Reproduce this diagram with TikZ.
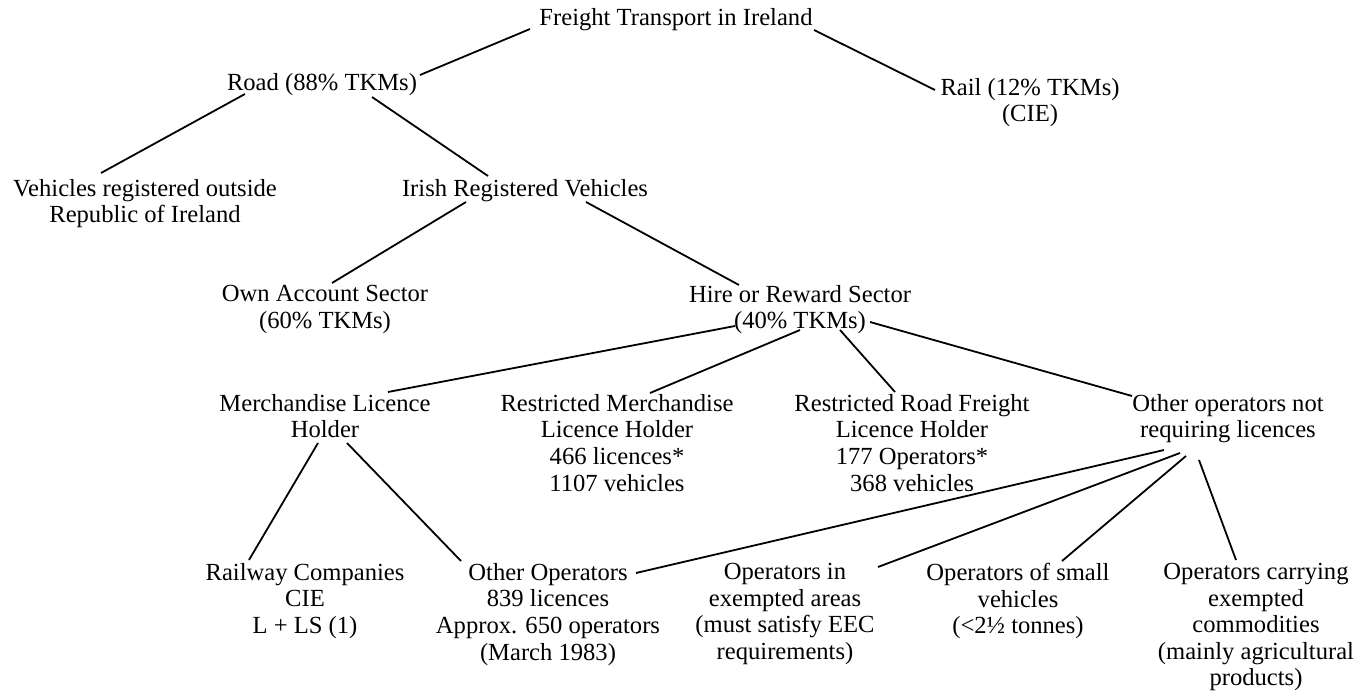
\documentclass[tikz,border=0pt]{standalone}
\usepackage{fontspec}
\setmainfont{Liberation Serif}
\usepackage{tikz}

\begin{document}
\begin{tikzpicture}[
  x=1pt, y=-1pt,
  every node/.style={font=\fontsize{24.6}{26.6}\selectfont},
  item/.style={anchor=north, align=center, inner sep=0pt},
  link/.style={line width=1.8pt, black},
]
\useasboundingbox (0,0) rectangle (1358,695);

% Top levels
\node[item] (freight) at (676,8) {Freight Transport in Ireland};
\node[item] (road) at (322,73) {Road (88\% TKMs)};
\node[item] (rail) at (1030,78) {Rail (12\% TKMs)\\(CIE)};

% Road split
\node[item] (foreign) at (145,179) {Vehicles registered outside\\Republic of Ireland};
\node[item] (irish) at (525,179) {Irish Registered Vehicles};

% Sectors
\node[item] (own) at (325,285) {Own Account Sector\\(60\% TKMs)};
\node[item] (hire) at (800,285) {Hire or Reward Sector\\(40\% TKMs)};

% Licence types
\node[item] (mlh) at (325,394) {Merchandise Licence\\Holder};
\node[item] (rmlh) at (617,394) {Restricted Merchandise\\Licence Holder\\466 licences*\\1107 vehicles};
\node[item] (rrflh) at (912,394) {Restricted Road Freight\\Licence Holder\\177 Operators*\\368 vehicles};
\node[item] (other) at (1228,394) {Other operators not\\requiring licences};

% Bottom row
\node[item] (cie) at (305,563) {Railway Companies\\CIE\\L + LS (1)};
\node[item] (otherops) at (548,563) {Other Operators\\839 licences\\Approx. 650 operators\\(March 1983)};
\node[item] (exarea) at (785,563) {Operators in\\exempted areas\\(must satisfy EEC\\requirements)};
\node[item] (small) at (1018,563) {Operators of small\\vehicles\\(<2½ tonnes)};
\node[item] (agri) at (1256,563) {Operators carrying\\exempted\\commodities\\(mainly agricultural\\products)};

% Links
\draw[link] ([shift={(-146,21)}]freight.north) -- ([shift={(98,2)}]road.north);
\draw[link] ([shift={(138,22)}]freight.north) -- ([shift={(-95,12)}]rail.north);
\draw[link] ([shift={(-77,21)}]road.north) -- ([shift={(-44,-6)}]foreign.north);
\draw[link] ([shift={(50,24)}]road.north) -- ([shift={(-37,-3)}]irish.north);
\draw[link] ([shift={(-59,23)}]irish.north) -- ([shift={(7,-2)}]own.north);
\draw[link] ([shift={(61,23)}]irish.north) -- ([shift={(-61,0)}]hire.north);
\draw[link] ([shift={(-65,41)}]hire.north) -- ([shift={(63,-2)}]mlh.north);
\draw[link] ([shift={(0,45)}]hire.north) -- ([shift={(33,-1)}]rmlh.north);
\draw[link] ([shift={(40,45)}]hire.north) -- ([shift={(-17,-2)}]rrflh.north);
\draw[link] ([shift={(70,37)}]hire.north) -- ([shift={(-96,2)}]other.north);
\draw[link] ([shift={(-7,49)}]mlh.north) -- ([shift={(-56,-3)}]cie.north);
\draw[link] ([shift={(22,49)}]mlh.north) -- ([shift={(-87,-2)}]otherops.north);
\draw[link] ([shift={(-64,56)}]other.north) -- ([shift={(88,10)}]otherops.north);
\draw[link] ([shift={(-48,59)}]other.north) -- ([shift={(93,4)}]exarea.north);
\draw[link] ([shift={(-42,62)}]other.north) -- ([shift={(44,-2)}]small.north);
\draw[link] ([shift={(-29,66)}]other.north) -- ([shift={(-20,-3)}]agri.north);

\end{tikzpicture}
\end{document}
